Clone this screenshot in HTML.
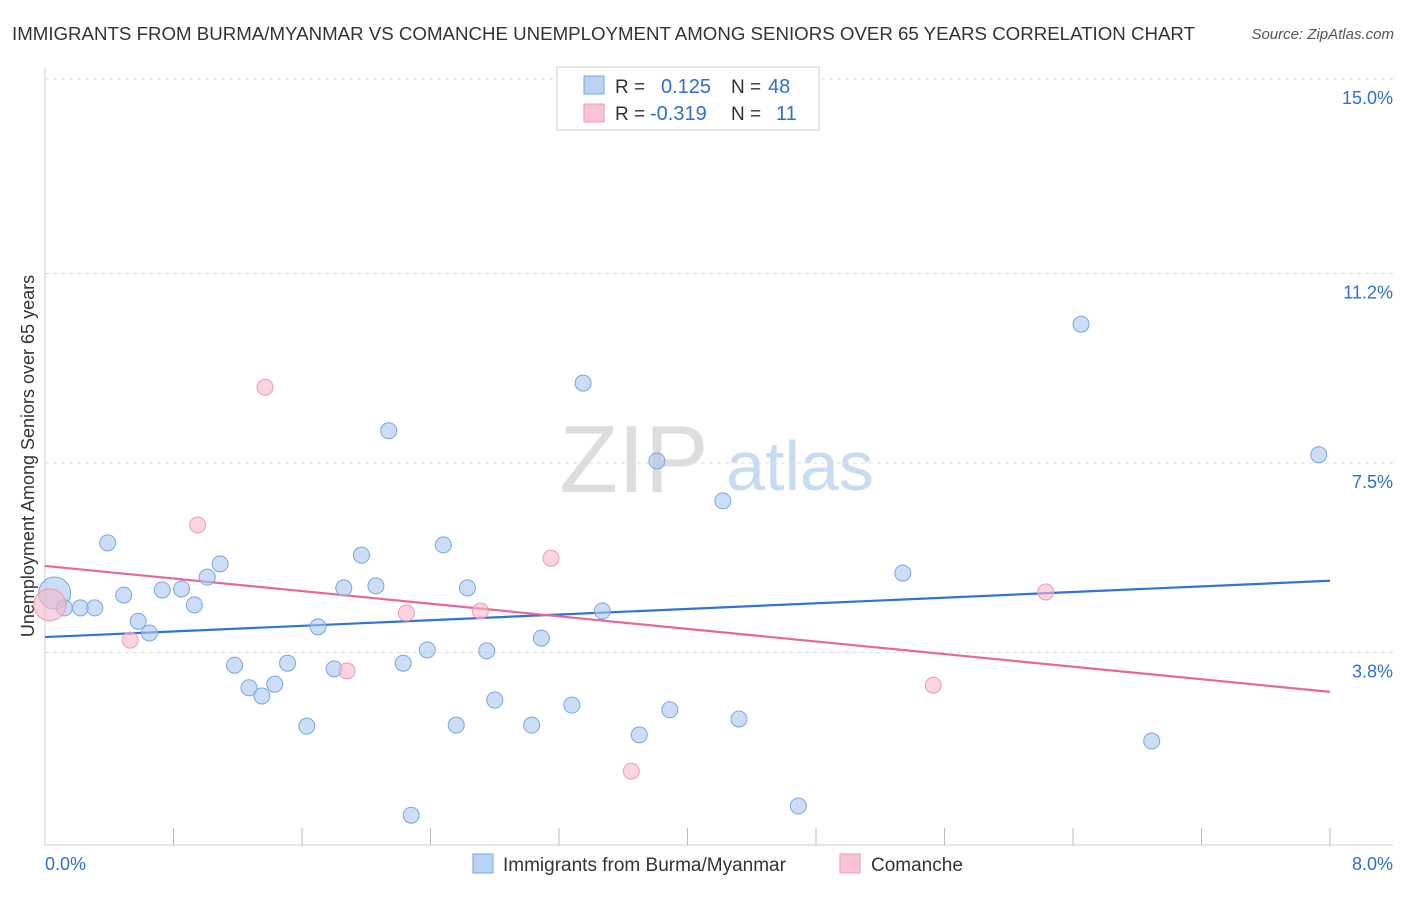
<!DOCTYPE html>
<html><head><meta charset="utf-8"><style>
body{margin:0;background:#fff;font-family:"Liberation Sans",sans-serif;}
svg text{font-family:"Liberation Sans",sans-serif;}
</style></head><body>
<svg id="chart" width="1406" height="892" xmlns="http://www.w3.org/2000/svg">
<text x="12" y="40" font-size="18.7" fill="#333">IMMIGRANTS FROM BURMA/MYANMAR VS COMANCHE UNEMPLOYMENT AMONG SENIORS OVER 65 YEARS CORRELATION CHART</text>
<text x="1394" y="39" font-size="15" fill="#555" text-anchor="end" font-style="italic">Source: ZipAtlas.com</text>
<text x="634" y="492" font-size="96" fill="#ddd" font-family="Liberation Serif" text-anchor="middle">ZIP</text>
<text x="800" y="490" font-size="70" fill="#c9dbf0" text-anchor="middle">atlas</text>
<text transform="translate(34,456) rotate(-90)" font-size="18" fill="#333" text-anchor="middle">Unemployment Among Seniors over 65 years</text>
<g id="grid"></g><g id="axes"></g><g id="lines"></g><g id="points"></g>
<g>
<rect x="557" y="67" width="262" height="63" fill="#fff" stroke="#ccc"/>
<rect x="584" y="76" width="20" height="18" fill="#b9d3f5" stroke="#7aa6e0"/>
<text x="615" y="93" font-size="19" fill="#333">R = </text><text x="661" y="93" font-size="20" fill="#2f6fd1">0.125</text>
<text x="731" y="93" font-size="19" fill="#333">N = </text><text x="768" y="93" font-size="20" fill="#2f6fd1">48</text>
<rect x="584" y="104" width="20" height="18" fill="#f8c4d4" stroke="#ee9ab3"/>
<text x="615" y="120" font-size="19" fill="#333">R = </text><text x="650" y="120" font-size="20" fill="#2f6fd1">-0.319</text>
<text x="731" y="120" font-size="19" fill="#333">N = </text><text x="776" y="120" font-size="20" fill="#2f6fd1">11</text>
</g>
<g>
<rect x="473" y="854" width="20" height="19" fill="#b9d3f5" stroke="#7aa6e0"/>
<text x="503" y="871" font-size="19" fill="#333">Immigrants from Burma/Myanmar</text>
<rect x="840" y="854" width="20" height="19" fill="#f8c4d4" stroke="#ee9ab3"/>
<text x="871" y="871" font-size="19" fill="#333">Comanche</text>
</g>
</svg>
<script>
const yTicks=[15.0,11.2,7.5,3.8];
const yTickLabels=["15.0%","11.2%","7.5%","3.8%"];
const blueX=[0.06,0.12,0.22,0.31,0.39,0.49,0.58,0.65,0.73,0.85,0.93,1.01,1.09,1.18,1.27,1.35,1.43,1.51,1.63,1.70,1.80,1.86,1.97,2.06,2.14,2.23,2.28,2.38,2.48,2.56,2.63,2.75,2.80,3.03,3.09,3.28,3.35,3.47,3.70,3.81,3.89,4.22,4.32,4.69,5.34,6.45,6.89,7.93];
const blueY=[4.96,4.67,4.67,4.67,5.94,4.92,4.41,4.18,5.02,5.04,4.73,5.27,5.53,3.55,3.11,2.95,3.18,3.59,2.36,4.30,3.48,5.06,5.70,5.10,8.13,3.59,0.62,3.85,5.90,2.38,5.06,3.83,2.87,2.38,4.08,2.77,9.06,4.61,2.19,7.54,2.68,6.76,2.50,0.80,5.35,10.21,2.07,7.66];
const pinkX=[0.03,0.53,0.95,1.37,1.88,2.25,2.71,3.15,3.65,5.53,6.23];
const pinkY=[4.73,4.04,6.29,8.98,3.44,4.57,4.61,5.64,1.48,3.16,4.98];
const blueTrend=[4.10,5.20];
const pinkTrend=[5.49,3.03];
const X0=45,X1=1330,XMAX=8;
const xs=v=>X0+v*(X1-X0)/XMAX;
const ys=v=>79+(15-v)*51.2;
const NS="http://www.w3.org/2000/svg";
function mk(tag,attrs,parent){const e=document.createElementNS(NS,tag);for(const k in attrs)e.setAttribute(k,attrs[k]);document.getElementById(parent).appendChild(e);return e;}
yTicks.forEach((t,i)=>{
 const l=mk('line',{x1:45,x2:1393,y1:ys(t),y2:ys(t),stroke:'#ddd','stroke-dasharray':'4,4'},'grid');
 
 
 const tx=mk('text',{x:1393,y:ys(t)+25,'font-size':18,fill:'#2f6fd1','text-anchor':'end'},'grid');
 tx.textContent=yTickLabels[i];
 
 
});
const ax=mk('line',{x1:45,x2:45,y1:68,y2:845,stroke:'#ccc'},'axes');


const bx=mk('line',{x1:45,x2:1393,y1:845,y2:845,stroke:'#ccc'},'axes');


for(let k=1;k<=10;k++){
 const x=xs(k*0.8);
 const t=mk('line',{x1:x,x2:x,y1:828,y2:845,stroke:'#bbb'},'axes');
 
 
}
[["0.0%",45,'start'],["8.0%",1393,'end']].forEach(a=>{
 const t=mk('text',{x:a[1],y:870,'font-size':18,fill:'#2f6fd1','text-anchor':a[2]},'axes');
 t.textContent=a[0];
 
 
});
function dots(X,Y,fill,stroke,name){
 X.forEach((x,i)=>{
  const r=i===0?16:8;
  const c=mk('circle',{cx:xs(x),cy:ys(Y[i]),r:r,fill:fill,'fill-opacity':0.6,stroke:stroke,'stroke-width':1},'points');
  
  
 });
}
dots(blueX,blueY,'#a9c8f0','#7aa6e0','point-burma');
dots(pinkX,pinkY,'#f6b8cb','#ee9ab3','point-comanche');
const bl=mk('line',{x1:xs(0),y1:ys(blueTrend[0]),x2:xs(8),y2:ys(blueTrend[1]),stroke:'#2f74d6','stroke-width':2.2},'lines');


const pl=mk('line',{x1:xs(0),y1:ys(pinkTrend[0]),x2:xs(8),y2:ys(pinkTrend[1]),stroke:'#e8679a','stroke-width':2.2},'lines');


</script>
</body></html>
